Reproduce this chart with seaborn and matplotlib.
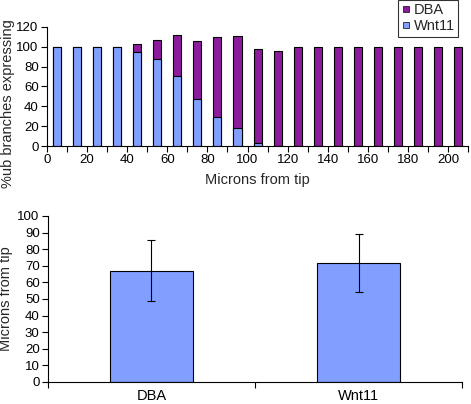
import numpy as np
import pandas as pd
import matplotlib
matplotlib.use('Agg')
import matplotlib.pyplot as plt
import seaborn as sns
from matplotlib.lines import Line2D

# top chart: percentage of ub branches expressing each marker, by distance from tip
microns = [5, 15, 25, 35, 45, 55, 65, 75, 85, 95, 105,
           115, 125, 135, 145, 155, 165, 175, 185, 195, 205]
wnt11_pct = [100, 100, 100, 100, 95, 88, 71, 47, 29, 18, 3,
             0, 0, 0, 0, 0, 0, 0, 0, 0, 0]
dba_pct = [0, 0, 0, 0, 8, 19, 41, 59, 81, 93, 95,
           96, 100, 100, 100, 100, 100, 100, 100, 100, 100]

# bottom chart: mean distance from tip with error
markers = ['DBA', 'Wnt11']
mean_dist = [67.0, 71.4]
err_dist = [18.4, 17.5]

purple = '#8c1c9c'
blue = '#809fff'

sns.set_theme(style='white')
plt.rcParams['font.family'] = ['Liberation Sans', 'DejaVu Sans']

fig = plt.figure(figsize=(4.71, 4.04), dpi=100)
ax1 = fig.add_axes([0.0998, 0.6386, 0.894, 0.2946])
ax2 = fig.add_axes([0.1019, 0.0545, 0.879, 0.411])

top = pd.DataFrame({'microns': microns, 'wnt11': wnt11_pct, 'dba': dba_pct})
top['total'] = top['wnt11'] + top['dba']

sns.barplot(data=top, x='microns', y='total', native_scale=True, width=0.4,
            color=purple, saturation=1, edgecolor='black', linewidth=0.8, ax=ax1)
sns.barplot(data=top, x='microns', y='wnt11', native_scale=True, width=0.4,
            color=blue, saturation=1, edgecolor='black', linewidth=0.8, ax=ax1)

ax1.set_xlim(0, 210)
ax1.set_ylim(0, 120)
ax1.set_xticks(range(0, 201, 20))
ax1.set_xticks(range(10, 211, 20), minor=True)
ax1.set_yticks(range(0, 121, 20))
ax1.tick_params(axis='both', which='both', direction='out', length=4, width=0.8,
                colors='black', labelsize=9.5, pad=2)
ax1.tick_params(axis='x', which='both', bottom=True)
ax1.tick_params(axis='y', left=True)
ax1.set_xlabel('Microns from tip', fontsize=10.5, labelpad=5)
ax1.set_ylabel('%ub branches expressing', fontsize=10.5)
# label sits lower than the axes centre in the original
ax1.yaxis.set_label_coords(-0.075, 0.36)
for s in ['top', 'right']:
    ax1.spines[s].set_visible(False)
for s in ['left', 'bottom']:
    ax1.spines[s].set_color('black')
    ax1.spines[s].set_linewidth(0.8)

handles = [Line2D([], [], marker='s', linestyle='none', markersize=4,
                  markerfacecolor=purple, markeredgecolor='black', markeredgewidth=0.5),
           Line2D([], [], marker='s', linestyle='none', markersize=4,
                  markerfacecolor=blue, markeredgecolor='black', markeredgewidth=0.5)]
leg = ax1.legend(handles, ['DBA', 'Wnt11'], loc='upper right',
                 bbox_to_anchor=(0.977, 1.23), fontsize=10.5, frameon=True,
                 fancybox=False, handlelength=0.6, handletextpad=0.2,
                 borderpad=0.25, labelspacing=0.15, borderaxespad=0)
leg.get_frame().set_edgecolor('black')
leg.get_frame().set_linewidth(0.8)

bottom = pd.DataFrame({'marker': markers, 'mean': mean_dist, 'err': err_dist})
sns.barplot(data=bottom, x='marker', y='mean', width=0.4, color=blue,
            saturation=1, edgecolor='black', linewidth=0.8, ax=ax2)
ax2.errorbar(x=np.arange(len(markers)), y=bottom['mean'], yerr=bottom['err'],
             fmt='none', ecolor='black', elinewidth=0.8, capsize=3, capthick=0.8)

ax2.set_xlim(-0.5, 1.5)
ax2.set_ylim(0, 100)
ax2.set_yticks(range(0, 101, 10))
ax2.set_xticks([-0.5, 0.5, 1.5], minor=True)
ax2.tick_params(axis='x', which='major', length=0, labelsize=10.5, pad=5, colors='black')
ax2.tick_params(axis='x', which='minor', bottom=True, direction='out', length=4,
                width=0.8, colors='black')
ax2.tick_params(axis='y', left=True, direction='out', length=4, width=0.8,
                labelsize=9.5, pad=2, colors='black')
ax2.set_xlabel('')
ax2.set_ylabel('Microns from tip', fontsize=10.5, labelpad=3)
for s in ['top', 'right']:
    ax2.spines[s].set_visible(False)
for s in ['left', 'bottom']:
    ax2.spines[s].set_color('black')
    ax2.spines[s].set_linewidth(0.8)

fig.savefig('out.png', dpi=100, facecolor='white')
